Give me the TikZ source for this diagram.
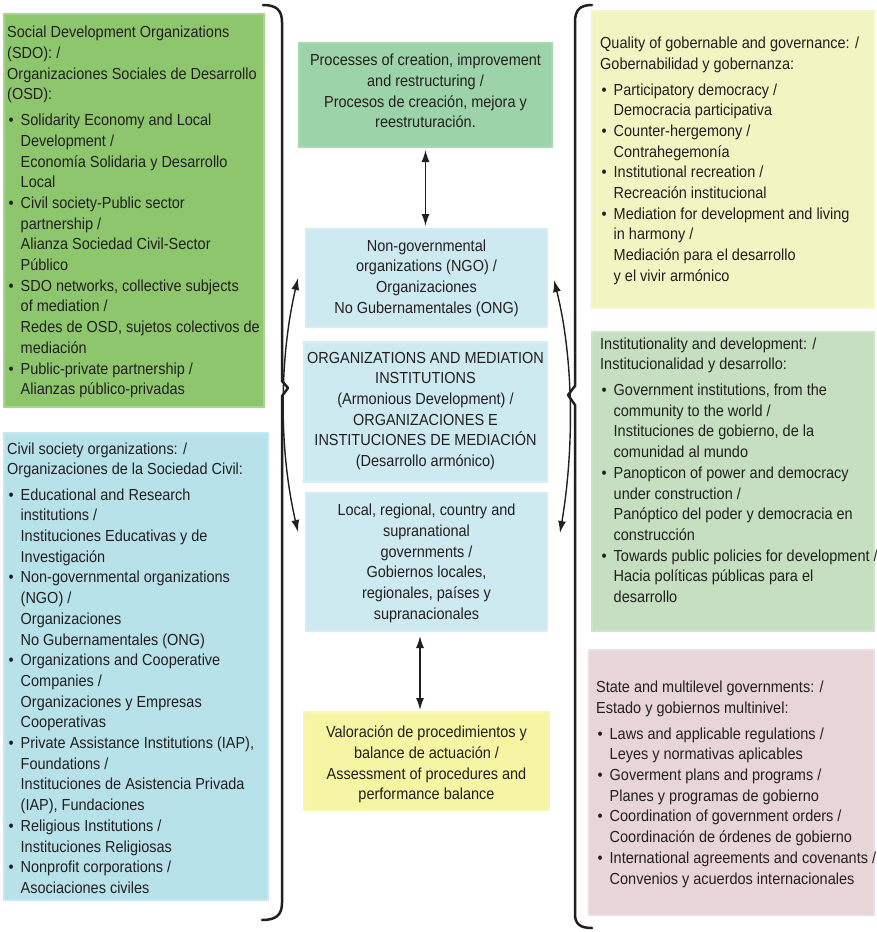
\documentclass[tikz,border=0pt]{standalone}
\usepackage{fontspec}
\setmainfont{Liberation Sans}[FakeStretch=0.905]
\usetikzlibrary{arrows.meta}
\definecolor{textc}{HTML}{231F20}
\definecolor{gL}{HTML}{8DC66C}
\definecolor{gLb}{HTML}{A8D48E}
\definecolor{bL}{HTML}{B8E2EA}
\definecolor{bLb}{HTML}{C6E8EF}
\definecolor{mint}{HTML}{9CD3A8}
\definecolor{mintb}{HTML}{A8D8B2}
\definecolor{cb}{HTML}{CDEAF1}
\definecolor{cbb}{HTML}{D5EEF3}
\definecolor{yR}{HTML}{F2F4C2}
\definecolor{yRb}{HTML}{F5F6CE}
\definecolor{gR}{HTML}{C5DFC0}
\definecolor{gRb}{HTML}{CFE5CA}
\definecolor{pk}{HTML}{E8D5D7}
\definecolor{pkb}{HTML}{EDDDDF}
\definecolor{yC}{HTML}{F5F5A3}
\definecolor{yCb}{HTML}{F7F7B5}
\newcommand\bitem{\makebox[13.5pt][l]{\hspace{1.5pt}\textbullet}}
\newcommand\bind{\hspace*{13.5pt}}
\tikzset{
  box/.style={anchor=north west, inner sep=0pt, outer sep=0pt, line width=2pt},
  txt/.style={inner sep=0pt, font=\fontsize{16}{20.7}\selectfont, text=textc},
  ltxt/.style={txt, anchor=north west, align=left},
  ctxt/.style={txt, anchor=north, align=center},
  brace/.style={line width=2.5pt, line join=round, line cap=round, draw=textc},
  arr/.style={line width=1.4pt, draw=textc, {Latex[length=12pt,width=8pt]}-{Latex[length=12pt,width=8pt]}},
}
\begin{document}
\begin{tikzpicture}[x=1pt,y=-1pt]
\useasboundingbox[fill=white] (0,0) rectangle (877,932);

% boxes
\node[box, fill=gL, draw=gLb, minimum width=260pt, minimum height=393pt] (sdo) at (4,14) {};
\node[box, fill=bL, draw=bLb, minimum width=264pt, minimum height=467pt] (cso) at (4,433) {};
\node[box, fill=mint, draw=mintb, minimum width=253pt, minimum height=104pt] (proc) at (299,43) {};
\node[box, fill=cb, draw=cbb, minimum width=241pt, minimum height=98pt] (ngo) at (306,229) {};
\node[box, fill=cb, draw=cbb, minimum width=243pt, minimum height=140pt] (org) at (304,342) {};
\node[box, fill=cb, draw=cbb, minimum width=241pt, minimum height=138pt] (local) at (306,493) {};
\node[box, fill=yC, draw=yCb, minimum width=245pt, minimum height=98pt] (assess) at (304,712) {};
\node[box, fill=yR, draw=yRb, minimum width=282pt, minimum height=297pt] (quality) at (592,11) {};
\node[box, fill=gR, draw=gRb, minimum width=282pt, minimum height=299pt] (instit) at (592,332) {};
\node[box, fill=pk, draw=pkb, minimum width=285pt, minimum height=265pt] (state) at (589,650) {};

% left texts
\node[ltxt] (sdot) at (7,23.2) {\strut Social Development Organizations\\
(SDO): /\\
Organizaciones Sociales de Desarrollo\\
(OSD):\\[5pt]
\bitem Solidarity Economy and Local\\
\bind Development /\\
\bind Economía Solidaria y Desarrollo\\
\bind Local\\
\bitem Civil society-Public sector\\
\bind partnership /\\
\bind Alianza Sociedad Civil-Sector\\
\bind Público\\
\bitem SDO networks, collective subjects\\
\bind of mediation /\\
\bind Redes de OSD, sujetos colectivos de\\
\bind mediación\\
\bitem Public-private partnership /\\
\bind Alianzas público-privadas};

\node[ltxt] (csot) at (7,439.5) {\strut Civil society organizations: /\\
Organizaciones de la Sociedad Civil:\\[4.5pt]
\bitem Educational and Research\\
\bind institutions /\\
\bind Instituciones Educativas y de\\
\bind Investigación\\
\bitem Non-governmental organizations\\
\bind (NGO) /\\
\bind Organizaciones\\
\bind No Gubernamentales (ONG)\\
\bitem Organizations and Cooperative\\
\bind Companies /\\
\bind Organizaciones y Empresas\\
\bind Cooperativas\\
\bitem Private Assistance Institutions (IAP),\\
\bind Foundations /\\
\bind Instituciones de Asistencia Privada\\
\bind (IAP), Fundaciones\\
\bitem Religious Institutions /\\
\bind Instituciones Religiosas\\
\bitem Nonprofit corporations /\\
\bind Asociaciones civiles};

% center texts
\node[ctxt] (proct) at (425.5,51) {\strut Processes of creation, improvement\\
and restructuring /\\
Procesos de creación, mejora y\\
reestruturación.};
\node[ctxt] (ngot) at (426.5,236.5) {\strut Non-governmental\\
organizations (NGO) /\\
Organizaciones\\
No Gubernamentales (ONG)};
\node[ctxt] (orgt) at (425.5,348.5) {\strut ORGANIZATIONS AND MEDIATION\\
INSTITUTIONS\\
(Armonious Development) /\\
ORGANIZACIONES E\\
INSTITUCIONES DE MEDIACIÓN\\
(Desarrollo armónico)};
\node[ctxt] (localt) at (426.5,501) {\strut Local, regional, country and\\
supranational\\
governments /\\
Gobiernos locales,\\
regionales, países y\\
supranacionales};
\node[ctxt] (assesst) at (426.5,723) {\strut Valoración de procedimientos y\\
balance de actuación /\\
Assessment of procedures and\\
performance balance};

% right texts
\node[ltxt] (qualityt) at (600,34) {\strut Quality of gobernable and governance: /\\
Gobernabilidad y gobernanza:\\[5pt]
\bitem Participatory democracy /\\
\bind Democracia participativa\\
\bitem Counter-hergemony /\\
\bind Contrahegemonía\\
\bitem Institutional recreation /\\
\bind Recreación institucional\\
\bitem Mediation for development and living\\
\bind in harmony /\\
\bind Mediación para el desarrollo\\
\bind y el vivir armónico};

\node[ltxt] (institt) at (600,334.5) {\strut Institutionality and development: /\\
Institucionalidad y desarrollo:\\[5pt]
\bitem Government institutions, from the\\
\bind community to the world /\\
\bind Instituciones de gobierno, de la\\
\bind comunidad al mundo\\
\bitem Panopticon of power and democracy\\
\bind under construction /\\
\bind Panóptico del poder y democracia en\\
\bind construcción\\
\bitem Towards public policies for development /\\
\bind Hacia políticas públicas para el\\
\bind desarrollo};

\node[ltxt] (statet) at (596,678) {\strut State and multilevel governments: /\\
Estado y gobiernos multinivel:\\[5pt]
\bitem Laws and applicable regulations /\\
\bind Leyes y normativas aplicables\\
\bitem Goverment plans and programs /\\
\bind Planes y programas de gobierno\\
\bitem Coordination of government orders /\\
\bind Coordinación de órdenes de gobierno\\
\bitem International agreements and covenants /\\
\bind Convenios y acuerdos internacionales};

% braces
\draw[brace] (263,5) .. controls (276,5) and (282,10) .. (282,22) -- (282,381) -- (288,388) -- (282,396) -- (282,903) .. controls (282,915) and (276,920) .. (262,920);
\draw[brace] (592,5) .. controls (580,5) and (575,10) .. (575,22) -- (575,386) -- (568,395) -- (575,405) -- (575,914) .. controls (575,924) and (580,928) .. (592,928);

% arrows
\draw[arr, shorten <=3pt, shorten >=3pt] (proc.south) -- (proc.south |- ngo.north);
\draw[arr, shorten <=5pt, shorten >=2pt] ([xshift=-6.5pt]local.south) -- ([xshift=-6.5pt]local.south |- assess.north);
\draw[arr] ([xshift=-8pt]ngo.west) .. controls (279,360) and (279,450) .. ([xshift=-8pt,yshift=30pt]local.west);
\draw[arr] ([xshift=7pt,yshift=-2pt]ngo.east) .. controls (574,360) and (574,450) .. ([xshift=13pt,yshift=29pt]local.east);
\end{tikzpicture}
\end{document}
